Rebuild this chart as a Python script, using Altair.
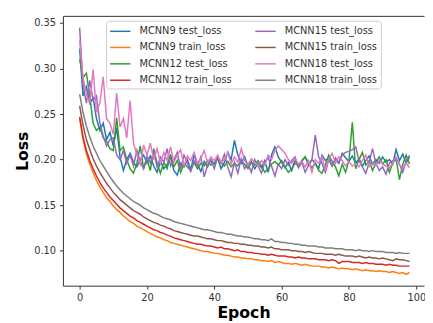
import altair as alt
import pandas as pd

# ---- data (epochs 0..98) ----
mcnn9_test = [
    0.322, 0.270, 0.280, 0.262, 0.268, 0.245, 0.232, 0.240, 0.222, 0.230,
    0.215, 0.235, 0.203, 0.188, 0.200, 0.207, 0.197, 0.192, 0.200, 0.205,
    0.196, 0.204, 0.193, 0.186, 0.198, 0.190, 0.195, 0.203, 0.188, 0.183,
    0.196, 0.192, 0.200, 0.189, 0.205, 0.195, 0.187, 0.198, 0.192, 0.200,
    0.195, 0.202, 0.190, 0.197, 0.208, 0.200, 0.221, 0.205, 0.196, 0.203,
    0.193, 0.198, 0.190, 0.196, 0.191, 0.199, 0.186, 0.205, 0.214, 0.203,
    0.197, 0.191, 0.197, 0.188, 0.200, 0.192, 0.198, 0.203, 0.194, 0.200,
    0.196, 0.190, 0.205, 0.199, 0.202, 0.193, 0.200, 0.196, 0.207, 0.202,
    0.198, 0.204, 0.196, 0.201, 0.193, 0.199, 0.204, 0.195, 0.200, 0.196,
    0.203, 0.197, 0.200, 0.195, 0.211, 0.199, 0.206, 0.196, 0.203,
]
mcnn9_train = [
    0.245, 0.222, 0.206, 0.195, 0.186, 0.177, 0.170, 0.164, 0.158, 0.154,
    0.149, 0.145, 0.142, 0.138, 0.135, 0.132, 0.130, 0.127, 0.125, 0.123,
    0.121, 0.119, 0.117, 0.115, 0.114, 0.112, 0.111, 0.109, 0.108, 0.107,
    0.106, 0.105, 0.104, 0.103, 0.102, 0.101, 0.100, 0.099, 0.099, 0.098,
    0.097, 0.097, 0.096, 0.095, 0.095, 0.094, 0.093, 0.093, 0.092, 0.092,
    0.091, 0.091, 0.090, 0.090, 0.089, 0.089, 0.088, 0.089, 0.087, 0.088,
    0.087, 0.086, 0.086, 0.085, 0.086, 0.085, 0.084, 0.085, 0.084, 0.083,
    0.083, 0.083, 0.082, 0.082, 0.081, 0.082, 0.081, 0.080, 0.081, 0.080,
    0.080, 0.079, 0.080, 0.079, 0.078, 0.079, 0.078, 0.078, 0.077, 0.078,
    0.077, 0.077, 0.076, 0.077, 0.076, 0.075, 0.076, 0.074, 0.076,
]
mcnn12_test = [
    0.310, 0.290, 0.295, 0.270, 0.240, 0.232, 0.236, 0.224, 0.220, 0.212,
    0.210, 0.246, 0.210, 0.214, 0.200, 0.190, 0.185, 0.196, 0.215, 0.190,
    0.200, 0.188, 0.212, 0.196, 0.185, 0.197, 0.190, 0.206, 0.192, 0.199,
    0.186, 0.196, 0.192, 0.188, 0.197, 0.190, 0.196, 0.193, 0.199, 0.194,
    0.196, 0.201, 0.197, 0.193, 0.198, 0.192, 0.196, 0.193, 0.199, 0.195,
    0.190, 0.197, 0.194, 0.199, 0.193, 0.186, 0.190, 0.195, 0.198, 0.194,
    0.199, 0.192, 0.186, 0.190, 0.196, 0.193, 0.199, 0.203, 0.196, 0.191,
    0.196, 0.188, 0.185, 0.194, 0.205, 0.198, 0.192, 0.182, 0.195, 0.186,
    0.199, 0.241, 0.190, 0.200, 0.208, 0.194, 0.199, 0.188, 0.197, 0.203,
    0.195, 0.200, 0.186, 0.196, 0.201, 0.178, 0.195, 0.205, 0.195,
]
mcnn12_train = [
    0.247, 0.225, 0.210, 0.199, 0.190, 0.182, 0.175, 0.169, 0.164, 0.159,
    0.155, 0.151, 0.147, 0.144, 0.141, 0.138, 0.136, 0.133, 0.131, 0.129,
    0.127, 0.125, 0.123, 0.122, 0.120, 0.119, 0.117, 0.116, 0.114, 0.113,
    0.112, 0.111, 0.110, 0.109, 0.108, 0.107, 0.107, 0.106, 0.105, 0.105,
    0.104, 0.103, 0.104, 0.102, 0.102, 0.101, 0.100, 0.101, 0.099, 0.099,
    0.098, 0.098, 0.097, 0.097, 0.096, 0.096, 0.095, 0.096, 0.095, 0.094,
    0.094, 0.094, 0.093, 0.093, 0.092, 0.093, 0.092, 0.092, 0.091, 0.091,
    0.091, 0.090, 0.090, 0.090, 0.089, 0.090, 0.089, 0.086, 0.088, 0.088,
    0.088, 0.087, 0.087, 0.087, 0.086, 0.087, 0.086, 0.086, 0.085, 0.085,
    0.085, 0.084, 0.085, 0.084, 0.084, 0.083, 0.083, 0.083, 0.083,
]
mcnn15_test = [
    0.345, 0.282, 0.262, 0.287, 0.265, 0.270, 0.240, 0.226, 0.215, 0.222,
    0.224, 0.205, 0.200, 0.210, 0.196, 0.205, 0.193, 0.210, 0.198, 0.190,
    0.204, 0.196, 0.209, 0.192, 0.203, 0.197, 0.212, 0.193, 0.200, 0.208,
    0.190, 0.205, 0.196, 0.187, 0.199, 0.193, 0.203, 0.181, 0.194, 0.199,
    0.190, 0.203, 0.196, 0.206, 0.192, 0.181, 0.197, 0.185, 0.201, 0.190,
    0.196, 0.186, 0.200, 0.193, 0.185, 0.197, 0.202, 0.193, 0.182, 0.195,
    0.190, 0.200, 0.194, 0.199, 0.203, 0.191, 0.197, 0.186, 0.194, 0.200,
    0.227, 0.203, 0.196, 0.186, 0.200, 0.193, 0.202, 0.197, 0.205, 0.208,
    0.209, 0.211, 0.214, 0.199, 0.192, 0.185, 0.197, 0.212, 0.196, 0.188,
    0.192, 0.184, 0.196, 0.199, 0.202, 0.195, 0.186, 0.199, 0.205,
]
mcnn15_train = [
    0.259, 0.238, 0.222, 0.211, 0.201, 0.193, 0.186, 0.180, 0.174, 0.169,
    0.164, 0.160, 0.156, 0.153, 0.150, 0.147, 0.144, 0.142, 0.140, 0.137,
    0.135, 0.133, 0.131, 0.130, 0.128, 0.127, 0.125, 0.124, 0.122, 0.121,
    0.120, 0.119, 0.118, 0.117, 0.116, 0.116, 0.115, 0.114, 0.113, 0.113,
    0.112, 0.111, 0.111, 0.110, 0.109, 0.109, 0.108, 0.108, 0.107, 0.107,
    0.106, 0.106, 0.105, 0.105, 0.104, 0.104, 0.103, 0.104, 0.102, 0.102,
    0.101, 0.101, 0.101, 0.100, 0.100, 0.099, 0.099, 0.098, 0.099, 0.098,
    0.097, 0.097, 0.097, 0.096, 0.096, 0.096, 0.095, 0.096, 0.095, 0.094,
    0.094, 0.094, 0.093, 0.094, 0.093, 0.092, 0.093, 0.092, 0.092, 0.091,
    0.092, 0.091, 0.090, 0.089, 0.091, 0.090, 0.090, 0.089, 0.088,
]
mcnn18_test = [
    0.331, 0.290, 0.272, 0.262, 0.299, 0.252, 0.262, 0.291, 0.245, 0.240,
    0.228, 0.273, 0.236, 0.245, 0.224, 0.265, 0.218, 0.205, 0.195, 0.216,
    0.205, 0.218, 0.200, 0.212, 0.196, 0.208, 0.199, 0.214, 0.197, 0.205,
    0.211, 0.193, 0.204, 0.199, 0.208, 0.196, 0.201, 0.210, 0.197, 0.203,
    0.199, 0.205, 0.197, 0.200, 0.208, 0.195, 0.203, 0.197, 0.212, 0.199,
    0.194, 0.201, 0.197, 0.193, 0.199, 0.194, 0.205, 0.200, 0.210, 0.215,
    0.211, 0.207, 0.200, 0.196, 0.201, 0.195, 0.198, 0.192, 0.199, 0.186,
    0.200, 0.196, 0.203, 0.189, 0.200, 0.207, 0.196, 0.203, 0.199, 0.193,
    0.198, 0.193, 0.195, 0.192, 0.199, 0.205, 0.192, 0.196, 0.193, 0.200,
    0.195, 0.193, 0.191, 0.196, 0.203, 0.194, 0.191, 0.196, 0.191,
]
mcnn18_train = [
    0.272, 0.252, 0.237, 0.225, 0.215, 0.207, 0.199, 0.193, 0.187, 0.181,
    0.176, 0.171, 0.167, 0.163, 0.160, 0.157, 0.154, 0.152, 0.150, 0.147,
    0.145, 0.143, 0.141, 0.140, 0.138, 0.136, 0.135, 0.134, 0.132, 0.131,
    0.130, 0.129, 0.128, 0.127, 0.126, 0.125, 0.124, 0.123, 0.123, 0.122,
    0.121, 0.120, 0.120, 0.119, 0.118, 0.118, 0.117, 0.116, 0.116, 0.115,
    0.115, 0.114, 0.113, 0.113, 0.112, 0.112, 0.111, 0.113, 0.110, 0.110,
    0.109, 0.109, 0.108, 0.108, 0.107, 0.107, 0.106, 0.106, 0.105, 0.105,
    0.105, 0.104, 0.104, 0.103, 0.103, 0.103, 0.102, 0.102, 0.102, 0.101,
    0.101, 0.101, 0.100, 0.101, 0.100, 0.100, 0.099, 0.100, 0.099, 0.099,
    0.099, 0.098, 0.098, 0.098, 0.097, 0.098, 0.097, 0.097, 0.097,
]

series_names = [
    "MCNN9 test_loss", "MCNN9 train_loss",
    "MCNN12 test_loss", "MCNN12 train_loss",
    "MCNN15 test_loss", "MCNN15 train_loss",
    "MCNN18 test_loss", "MCNN18 train_loss",
]
series_values = [
    mcnn9_test, mcnn9_train, mcnn12_test, mcnn12_train,
    mcnn15_test, mcnn15_train, mcnn18_test, mcnn18_train,
]
series_colors = [
    "#1f77b4", "#ff7f0e", "#2ca02c", "#d62728",
    "#9467bd", "#8c564b", "#e377c2", "#7f7f7f",
]
x_ticks = [0, 20, 40, 60, 80, 100]
y_ticks = [0.10, 0.15, 0.20, 0.25, 0.30, 0.35]

rows = []
for k, (name, vals) in enumerate(zip(series_names, series_values)):
    for i, v in enumerate(vals):
        rows.append({"Epoch": i, "Loss": v, "Series": name, "k": k})
df = pd.DataFrame(rows)

x_scale = alt.Scale(domain=[-4.96, 102.3], nice=False, zero=False)
y_scale = alt.Scale(domain=[0.0615, 0.3579], nice=False, zero=False)

lines = alt.Chart(df).mark_line(strokeWidth=1.5, clip=True).encode(
    x=alt.X("Epoch:Q", scale=x_scale,
            axis=alt.Axis(values=x_ticks, title="Epoch", titleY=19,
                          titleBaseline="top")),
    y=alt.Y("Loss:Q", scale=y_scale,
            axis=alt.Axis(values=y_ticks, format=".2f", title="Loss",
                          titleX=-36, titleY=137.5, titleAngle=270,
                          titleAlign="center", titleBaseline="alphabetic")),
    color=alt.Color("Series:N",
                    scale=alt.Scale(domain=series_names, range=series_colors),
                    legend=alt.Legend(title=None, orient="none", legendX=44,
                                      legendY=5, columns=2)),
    order=alt.Order("k:Q"),
)

top_frame = alt.Chart(df).mark_point(opacity=0, size=0).encode(
    x=alt.X("Epoch:Q", scale=x_scale,
            axis=alt.Axis(orient="top", labels=False, ticks=False, title=None,
                          domain=True)),
    y=alt.Y("Loss:Q", scale=y_scale, axis=None),
)

chart = alt.layer(lines, top_frame).resolve_axis(
    x="independent", y="independent"
).properties(
    width=368, height=275,
    autosize=alt.AutoSizeParams(type="none"),
    padding={"left": 56, "top": 5, "right": 1, "bottom": 35},
).configure_view(stroke=None).configure_axis(
    grid=False,
    domainColor="#333", domainWidth=1,
    tickColor="#333", tickSize=3.5, tickWidth=1,
    labelColor="#333", labelFont="DejaVu Sans", labelFontSize=10, labelPadding=4,
    titleFont="DejaVu Sans", titleFontSize=16, titleFontWeight="bold",
    titleColor="black",
).configure_legend(
    labelFont="DejaVu Sans", labelFontSize=10, labelColor="#333",
    symbolType="M-1,0L2.2,0", symbolStrokeWidth=1.5, symbolSize=169,
    symbolFillColor="transparent",
    labelOffset=16, columnPadding=20, rowPadding=3.7, padding=3,
    fillColor="white", strokeColor="#cccccc", cornerRadius=3,
)

chart.save("out.html", embed_options={"renderer": "svg", "actions": False})
